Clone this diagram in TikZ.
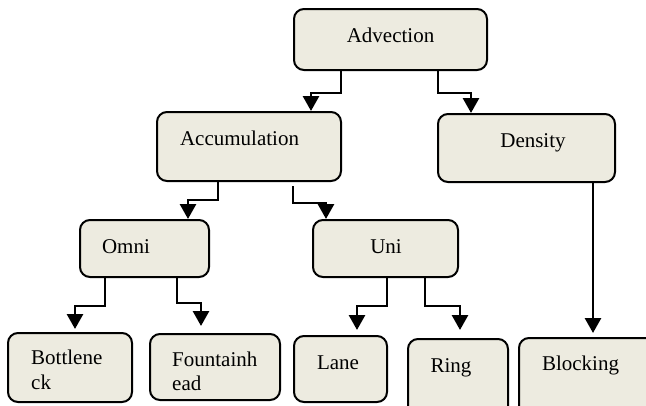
\documentclass[tikz,border=0pt]{standalone}
\usepackage{fontspec}
\setmainfont{Liberation Serif}
\usetikzlibrary{arrows.meta,calc}
\definecolor{boxfill}{HTML}{EDEBE0}
\begin{document}
\begin{tikzpicture}[x=1pt,y=-1pt,
  box/.style={draw=black,line width=2pt,fill=boxfill,rounded corners=10pt,
    rectangle,inner sep=0pt},
  lbl/.style={inner sep=0pt,font=\fontsize{21}{25}\selectfont},
  arr/.style={line width=2.8pt,-{Triangle[width=16pt,length=15pt]}}]
\useasboundingbox (0,0) rectangle (646,405);
\clip (0,0) rectangle (646,405);

% boxes
\node[box,minimum width=193pt,minimum height=61pt] (adv)  at (390.5,39.5) {};
\node[box,minimum width=184pt,minimum height=69pt] (acc)  at (249,146.5) {};
\node[box,minimum width=177pt,minimum height=68pt] (den)  at (526.5,148) {};
\node[box,minimum width=129pt,minimum height=57pt] (omni) at (144.5,248.5) {};
\node[box,minimum width=145pt,minimum height=57pt] (uni)  at (385.5,248.5) {};
\node[box,minimum width=124pt,minimum height=69pt] (bot)  at (70,367.5) {};
\node[box,minimum width=130pt,minimum height=66pt] (fou)  at (215,367) {};
\node[box,minimum width=93pt,minimum height=66pt]  (lane) at (340.5,369) {};
\node[box,minimum width=100pt,minimum height=78pt] (ring) at (458,378) {};
\node[box,minimum width=138pt,minimum height=78pt] (blk)  at (588,377) {};

% labels
\node[lbl,anchor=base] (tadv) at (390.5,42) {Advection};
\node[lbl,anchor=base] (tacc) at (239.5,145) {Accumulation};
\node[lbl,anchor=base] (tden) at (533,147) {Density};
\node[lbl,anchor=base] (tomni) at (126,253) {Omni};
\node[lbl,anchor=base] (tuni) at (386,253) {Uni};
\node[lbl,anchor=base west] (tbot1) at (31,364) {Bottlene};
\node[lbl,anchor=base west] (tbot2) at (31,389) {ck};
\node[lbl,anchor=base west] (tfou1) at (172,366) {Fountainh};
\node[lbl,anchor=base west] (tfou2) at (172,390) {ead};
\node[lbl,anchor=base] (tlane) at (338,369) {Lane};
\node[lbl,anchor=base] (tring) at (451,372) {Ring};
\node[lbl,anchor=base] (tblk) at (580.5,370) {Blocking};

% elbow connectors
\draw[arr] ($(adv.south west)+(48,0)$)  -- ++(0,22) -| ($(acc.north west)+(155,0)$);
\draw[arr] ($(adv.south west)+(145,0)$) -- ++(0,22) -| ($(den.north west)+(34,0)$);
\draw[arr] ($(acc.south west)+(62,0)$)  -- ++(0,18) -| ($(omni.north west)+(109,0)$);
\draw[arr] ($(acc.south west)+(137,4)$) -- ++(0,17) -| ($(uni.north west)+(14,0)$);
\draw[arr] ($(omni.south west)+(26,0)$) -- ++(0,28) -| ($(bot.north west)+(68,-3)$);
\draw[arr] ($(omni.south west)+(98,0)$) -- ++(0,25) -| ($(fou.north west)+(52,-7)$);
\draw[arr] ($(uni.south west)+(75,0)$)  -- ++(0,28) -| ($(lane.north west)+(64,-5)$);
\draw[arr] ($(uni.south west)+(113,0)$) -- ++(0,28) -| ($(ring.north west)+(53,-8)$);
\draw[arr] ($(den.south west)+(156,0)$) -- ($(blk.north west)+(75,-4)$);
\end{tikzpicture}
\end{document}
